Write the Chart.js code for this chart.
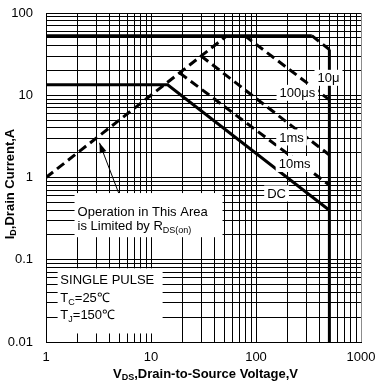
<!DOCTYPE html>
<html>
<head>
<meta charset="utf-8">
<script src="https://cdn.jsdelivr.net/npm/chart.js@4.4.0/dist/chart.umd.min.js"></script>
<style>
  html, body { margin: 0; padding: 0; background: #fff; }
</style>
</head>
<body>
<canvas id="soaChart" width="378" height="388"></canvas>
<script>
// Safe operating area plot - log/log, drawn with Chart.js

// ---- data (V in volts, I in amps) ----
var xTickValues = [1, 10, 100, 1000];
var yTickValues = [0.01, 0.1, 1, 10, 100];

var rdsV = [1, 53];
var rdsI = [1, 53];

var idmV = [1, 340];          // pulsed current limit (solid)
var idmI = [53, 53];
var cornerV = [340, 500];     // 10us corner (dashed)
var cornerI = [53, 36];
var bvV = [500, 500];         // breakdown voltage limit
var bvI = [36, 0.01];

var p100usV = [78, 500];
var p100usI = [53, 8.8];
var p1msV = [30, 500];
var p1msI = [30, 1.88];
var p10msV = [18.7, 500];
var p10msI = [18.7, 0.81];
var dcV = [1, 14.4, 500];
var dcI = [13.4, 13.4, 0.4];

// curve labels: text, V, I (centre)
var curveLabels = [
  ['10\u03bc', 490, 16.3],
  ['100\u03bcs', 248, 10.7],
  ['1ms', 218, 3.07],
  ['10ms', 233, 1.46],
  ['DC', 157, 0.64]
];

var FONT = '"Liberation Sans", Arial, sans-serif';

function toPoints(xs, ys) {
  return xs.map(function(x, i) { return { x: x, y: ys[i] }; });
}

function lineSet(xs, ys, dashed) {
  return {
    data: toPoints(xs, ys),
    showLine: true,
    borderColor: '#000',
    borderWidth: 3,
    borderDash: dashed ? [9, 5] : [],
    pointRadius: 0,
    fill: false
  };
}

// 1..9 x 10^n gridlines between min and max
function logGrid(min, max) {
  var out = [];
  var exp = Math.floor(Math.log10(min) + 1e-9);
  while (Math.pow(10, exp) <= max * 1.0001) {
    for (var s = 1; s <= 9; s++) {
      var v = parseFloat((s * Math.pow(10, exp)).toPrecision(6));
      if (v >= min * 0.9999 && v <= max * 1.0001) out.push({ value: v });
    }
    exp++;
  }
  return out;
}

function isIn(list, v) {
  for (var i = 0; i < list.length; i++) {
    if (Math.abs(list[i] - v) / list[i] < 1e-6) return true;
  }
  return false;
}

// no extra label padding, the layout padding already leaves room
function noPadding(scale) {
  scale.paddingTop = 0;
  scale.paddingBottom = 0;
  scale.paddingLeft = 0;
  scale.paddingRight = 0;
}

// draw text with subscript parts: [[text, isSub], ...]
function richWidth(ctx, parts, size, weight) {
  var w = 0;
  parts.forEach(function(p) {
    ctx.font = weight + ' ' + (p[1] ? Math.round(size * 0.7) : size) + 'px ' + FONT;
    w += ctx.measureText(p[0]).width;
  });
  return w;
}
function drawRich(ctx, parts, x, y, size, weight) {
  ctx.textBaseline = 'middle';
  ctx.textAlign = 'left';
  parts.forEach(function(p) {
    var s = p[1] ? Math.round(size * 0.7) : size;
    ctx.font = weight + ' ' + s + 'px ' + FONT;
    ctx.fillText(p[0], x, p[1] ? y + size * 0.3 : y);
    x += ctx.measureText(p[0]).width;
  });
}

var annotationPlugin = {
  id: 'soaAnnotations',
  afterDatasetsDraw: function(chart) {
    var ctx = chart.ctx;
    var xs = chart.scales.x, ys = chart.scales.y;
    var px = function(v) { return xs.getPixelForValue(v); };
    var py = function(v) { return ys.getPixelForValue(v); };
    ctx.save();
    ctx.fillStyle = '#000';

    // arrow pointing at RDS(on) line
    var tx = px(3.23), ty = py(2.64), sx = px(5.01), sy = py(0.61);
    ctx.strokeStyle = '#000';
    ctx.lineWidth = 1;
    ctx.beginPath();
    ctx.moveTo(sx, sy);
    ctx.lineTo(tx, ty);
    ctx.stroke();
    var ang = Math.atan2(ty - sy, tx - sx);
    ctx.beginPath();
    ctx.moveTo(tx, ty);
    ctx.lineTo(tx - 10 * Math.cos(ang) + 3.5 * Math.sin(ang), ty - 10 * Math.sin(ang) - 3.5 * Math.cos(ang));
    ctx.lineTo(tx - 10 * Math.cos(ang) - 3.5 * Math.sin(ang), ty - 10 * Math.sin(ang) + 3.5 * Math.cos(ang));
    ctx.closePath();
    ctx.fill();

    // curve labels on white boxes
    ctx.font = '13px ' + FONT;
    ctx.textBaseline = 'middle';
    ctx.textAlign = 'center';
    curveLabels.forEach(function(l) {
      var cx = px(l[1]), cy = py(l[2]);
      var w = ctx.measureText(l[0]).width;
      ctx.fillStyle = '#fff';
      ctx.fillRect(cx - w / 2 - 3, cy - 8, w + 6, 16);
      ctx.fillStyle = '#000';
      ctx.fillText(l[0], cx, cy + 0.5);
    });

    // operation note box
    ctx.fillStyle = '#fff';
    ctx.fillRect(px(1.87), py(0.647), px(48) - px(1.87), py(0.188) - py(0.647));
    ctx.fillStyle = '#000';
    drawRich(ctx, [['Operation in This Area', false]], px(2.0), py(0.379), 13, 'normal');
    drawRich(ctx, [['is Limited by R', false], ['DS(on)', true]], px(2.0), py(0.256), 13, 'normal');

    // test conditions box
    ctx.fillStyle = '#fff';
    ctx.fillRect(px(1.29), py(0.0787), px(12.9) - px(1.29), py(0.0127) - py(0.0787));
    ctx.fillStyle = '#000';
    drawRich(ctx, [['SINGLE PULSE', false]], px(1.37), py(0.056), 13, 'normal');
    drawRich(ctx, [['T', false], ['C', true], ['=25\u2103', false]], px(1.37), py(0.0339), 13, 'normal');
    drawRich(ctx, [['T', false], ['J', true], ['=150\u2103', false]], px(1.37), py(0.021), 13, 'normal');
    ctx.restore();
  },
  afterDraw: function(chart) {
    var ctx = chart.ctx;
    var area = chart.chartArea;
    ctx.save();
    ctx.fillStyle = '#000';
    // x axis title
    var xParts = [['V', false], ['DS', true], [',Drain-to-Source Voltage,V', false]];
    var xw = richWidth(ctx, xParts, 13, 'bold');
    drawRich(ctx, xParts, (area.left + area.right) / 2 + 2 - xw / 2, 374, 13, 'bold');
    // y axis title (rotated)
    var yParts = [['I', false], ['D', true], [',Drain Current,A', false]];
    var yw = richWidth(ctx, yParts, 13, 'bold');
    ctx.translate(10, 184);
    ctx.rotate(-Math.PI / 2);
    drawRich(ctx, yParts, -yw / 2, 0, 13, 'bold');
    ctx.restore();
  }
};

function gridColor(ctx) {
  if (ctx.tick && ctx.tick.value === 1000) return '#8c8c8c';
  return '#000';
}

var chart = new Chart(document.getElementById('soaChart').getContext('2d'), {
  type: 'scatter',
  data: {
    datasets: [
      lineSet(rdsV, rdsI, true),
      lineSet(idmV, idmI, false),
      lineSet(cornerV, cornerI, true),
      lineSet(bvV, bvI, false),
      lineSet(p100usV, p100usI, true),
      lineSet(p1msV, p1msI, true),
      lineSet(p10msV, p10msI, true),
      lineSet(dcV, dcI, false)
    ]
  },
  options: {
    responsive: false,
    animation: false,
    layout: { padding: { top: 13, right: 17, left: 0, bottom: 0 } },
    plugins: {
      legend: { display: false },
      tooltip: { enabled: false }
    },
    scales: {
      x: {
        type: 'logarithmic',
        min: 1,
        max: 1000,
        afterBuildTicks: function(scale) { scale.ticks = logGrid(1, 1000); },
        afterFit: function(scale) { scale.height = 46; noPadding(scale); },
        grid: { color: gridColor, lineWidth: 1, drawTicks: false },
        border: { display: true, color: '#000', width: 1 },
        ticks: {
          autoSkip: false,
          maxRotation: 0,
          padding: 8,
          color: '#000',
          font: { family: FONT, size: 13 },
          callback: function(value) {
            return isIn(xTickValues, value) ? String(value) : '';
          }
        }
      },
      y: {
        type: 'logarithmic',
        min: 0.01,
        max: 100,
        afterBuildTicks: function(scale) { scale.ticks = logGrid(0.01, 100); },
        afterFit: function(scale) { scale.width = 46; noPadding(scale); },
        grid: { color: '#000', lineWidth: 1, drawTicks: false },
        border: { display: true, color: '#000', width: 1 },
        ticks: {
          autoSkip: false,
          padding: 13,
          color: '#000',
          font: { family: FONT, size: 13 },
          callback: function(value) {
            return isIn(yTickValues, value) ? String(value) : '';
          }
        }
      }
    }
  },
  plugins: [annotationPlugin]
});
</script>
</body>
</html>
